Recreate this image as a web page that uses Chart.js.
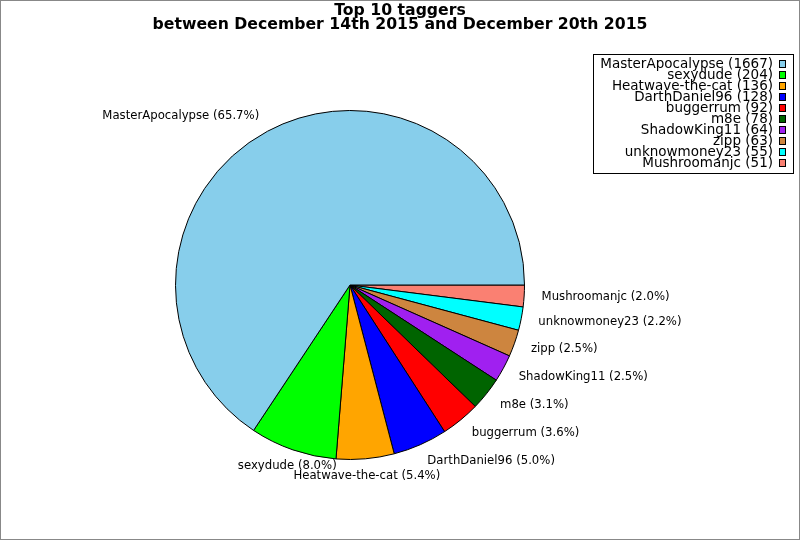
<!DOCTYPE html>
<html>
<head>
<meta charset="utf-8">
<script src="https://cdn.jsdelivr.net/npm/chart.js@4.4.0/dist/chart.umd.min.js"></script>
<style>
  body { margin: 0; background: #fff; }
  canvas { display: block; }
</style>
</head>
<body>
<canvas id="myChart" width="800" height="540"></canvas>
<script>
const taggers = ['MasterApocalypse', 'sexydude', 'Heatwave-the-cat', 'DarthDaniel96', 'buggerrum',
  'm8e', 'ShadowKing11', 'zipp', 'unknowmoney23', 'Mushroomanjc'];
const tagCounts = [1667, 204, 136, 128, 92, 78, 64, 63, 55, 51];
const sliceColors = ['#87CEEB', '#00FF00', '#FFA500', '#0000FF', '#FF0000',
  '#006400', '#A020F0', '#CD853F', '#00FFFF', '#FA8072'];
const titleLines = ['Top 10 taggers', 'between December 14th 2015 and December 20th 2015'];

const total = tagCounts.reduce((a, b) => a + b, 0);

// the reference goes counter-clockwise from 3 o'clock, chart.js goes clockwise,
// so feed the slices in reverse
const pieLabels = taggers.slice().reverse();
const pieValues = tagCounts.slice().reverse();
const pieColors = sliceColors.slice().reverse();

const labelFont = '11.7px "DejaVu Sans"';
const legendFont = '13.5px "DejaVu Sans"';

const decorations = {
  id: 'decorations',
  afterDraw(chart) {
    const ctx = chart.ctx;
    const meta = chart.getDatasetMeta(0);
    ctx.save();

    // slice labels
    ctx.font = labelFont;
    ctx.fillStyle = '#000';
    ctx.textBaseline = 'middle';
    meta.data.forEach((arc, i) => {
      const mid = (arc.startAngle + arc.endAngle) / 2;
      const r = arc.outerRadius * 1.1;
      const c = Math.cos(mid);
      const x = arc.x + r * c;
      const y = arc.y + r * Math.sin(mid);
      ctx.textAlign = Math.abs(c) < 0.35 ? 'center' : (c > 0 ? 'left' : 'right');
      const pct = (pieValues[i] / total * 100).toFixed(1);
      ctx.fillText(pieLabels[i] + ' (' + pct + '%)', x, y);
    });

    // title
    ctx.font = 'bold 15.7px "DejaVu Sans"';
    ctx.textAlign = 'center';
    ctx.textBaseline = 'alphabetic';
    ctx.fillText(titleLines[0], 400, 15);
    ctx.fillText(titleLines[1], 400, 29);

    // legend
    ctx.fillStyle = '#fff';
    ctx.strokeStyle = '#000';
    ctx.lineWidth = 1;
    ctx.fillRect(593.5, 54.5, 200, 119);
    ctx.strokeRect(593.5, 54.5, 200, 119);
    ctx.font = legendFont;
    ctx.textAlign = 'right';
    ctx.textBaseline = 'middle';
    taggers.forEach((name, i) => {
      const y = 64 + i * 11;
      ctx.fillStyle = '#000';
      ctx.fillText(name + ' (' + tagCounts[i] + ')', 773, y);
      ctx.fillStyle = sliceColors[i];
      ctx.fillRect(779.5, y - 3.5, 6, 7);
      ctx.strokeRect(779.5, y - 3.5, 6, 7);
    });

    // outer frame
    ctx.strokeStyle = '#888';
    ctx.strokeRect(0.5, 0.5, 799, 539);
    ctx.restore();
  }
};

const ctx = document.getElementById('myChart');

new Chart(ctx, {
  type: 'pie',
  data: {
    labels: pieLabels,
    datasets: [{
      data: pieValues,
      backgroundColor: pieColors,
      borderColor: '#000',
      borderWidth: 1,
      hoverOffset: 0
    }]
  },
  options: {
    responsive: false,
    animation: false,
    devicePixelRatio: 1,
    rotation: 90,
    layout: {
      padding: { left: 175, right: 275, top: 110, bottom: 80 }
    },
    plugins: {
      legend: { display: false },
      tooltip: { enabled: false },
      title: { display: false }
    },
    events: []
  },
  plugins: [decorations]
});
</script>
</body>
</html>
